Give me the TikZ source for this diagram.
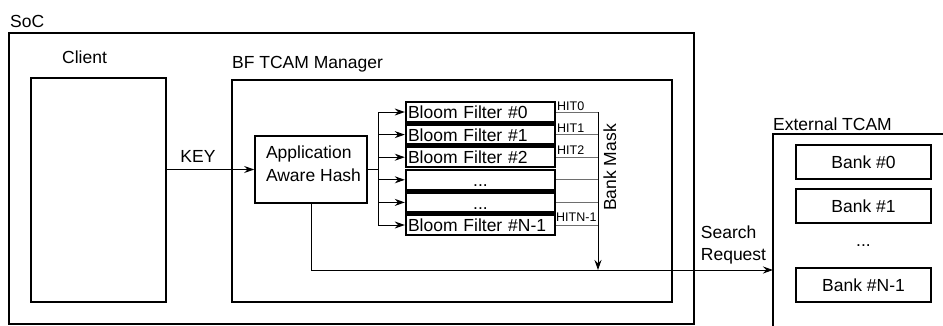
\documentclass[tikz,border=0pt]{standalone}
\usepackage{fontspec}
\setmainfont{Liberation Sans}
\usetikzlibrary{arrows.meta}
\definecolor{hitgray}{RGB}{110,110,110}
\begin{document}
\begin{tikzpicture}[x=1pt,y=-1pt,
  every node/.style={font=\fontsize{17.5}{22.5}\selectfont, inner sep=0pt},
  box/.style={draw, line width=1.6pt, rectangle, inner sep=0pt},
  bfbox/.style={draw, line width=2.4pt, minimum width=149pt, minimum height=20pt,
    text width=145pt, inner xsep=2pt, inner ysep=0pt, text height=16.7pt, text depth=3.3pt},
  lbl/.style={anchor=base west},
  hitlbl/.style={font=\fontsize{12.5}{14}\selectfont, anchor=base west},
  thinline/.style={line width=1pt},
  arr/.style={-{Stealth[length=10pt,width=7pt]}},
]
\useasboundingbox (0,0) rectangle (943,325);
\clip (0,0) rectangle (943,325);

% containers
\node[box, minimum width=685pt, minimum height=291pt] (soc) at (351.5,178.5) {};
\node[lbl] (soclbl) at (10,27) {SoC};
\node[box, minimum width=135pt, minimum height=224pt] (client) at (98.5,190) {};
\node[lbl] (clientlbl) at (62,63) {Client};
\node[box, minimum width=440pt, minimum height=222pt] (mgr) at (452,191) {};
\node[lbl] (mgrlbl) at (232,68) {BF TCAM Manager};

% hash
\node[box, minimum width=112pt, minimum height=67pt] (hash) at (311,169.5) {};
\node[align=left] (hashtxt) at (313.5,163.5) {Application\\Aware Hash};

% bloom filters
\node[bfbox, align=left] (bf0) at (480.5,112) {Bloom Filter \#0};
\node[bfbox, align=left] (bf1) at (480.5,134.6) {Bloom Filter \#1};
\node[bfbox, align=left] (bf2) at (480.5,157.2) {Bloom Filter \#2};
\node[bfbox, align=center] (bf3) at (480.5,179.8) {...};
\node[bfbox, align=center] (bf4) at (480.5,202.4) {...};
\node[bfbox, align=left] (bf5) at (480.5,225) {Bloom Filter \#N-1};

% external TCAM
\node[box, minimum width=200pt, minimum height=212pt] (ext) at (873,240) {};
\node[lbl] (extlbl) at (773,130) {External TCAM};
\node[box, minimum width=135pt, minimum height=34pt] (bank0) at (863.5,162) {Bank \#0};
\node[box, minimum width=135pt, minimum height=34pt] (bank1) at (863.5,206) {Bank \#1};
\node[anchor=base] (bankdots) at (863.5,246.5) {...};
\node[box, minimum width=135pt, minimum height=34pt] (bankN) at (863.5,285) {Bank \#N-1};

% KEY
\draw[thinline, arr] (hash.west -| client.east) -- node[pos=0.15, anchor=base west, yshift=7pt] (keylbl) {KEY} (hash.west);

% fan-out
\coordinate (fan) at (378,169.5);
\draw[thinline] (hash.east) -- (fan);
\draw[thinline] (fan |- bf0.west) -- (fan |- bf5.west);
\foreach \b in {bf0,bf1,bf2,bf3,bf4,bf5}
  \draw[thinline, arr] (fan |- \b.west) -- (\b.west);

% HIT lines
\coordinate (mask) at (598,112);
\coordinate (sr) at (773,270);
\foreach \b in {bf0,bf1,bf2,bf3,bf4,bf5}
  \draw[thinline, hitgray] (\b.east) -- (mask |- \b.east);
\node[hitlbl] (hit0) at (557,110) {HIT0};
\node[hitlbl] (hit1) at (557,132) {HIT1};
\node[hitlbl] (hit2) at (557,154.5) {HIT2};
\node[hitlbl] (hitn) at (556,221.5) {HITN-1};
\draw[thinline, arr] (mask |- bf0.east) -- (mask |- sr);
\node[rotate=90, anchor=base] (masklbl) at (616,167.5) {Bank Mask};

% search request
\draw[thinline, arr] (hash.south) |- (sr);
\node[align=left] (srlbl) at (733.5,245) {Search\\Request};
\end{tikzpicture}
\end{document}
